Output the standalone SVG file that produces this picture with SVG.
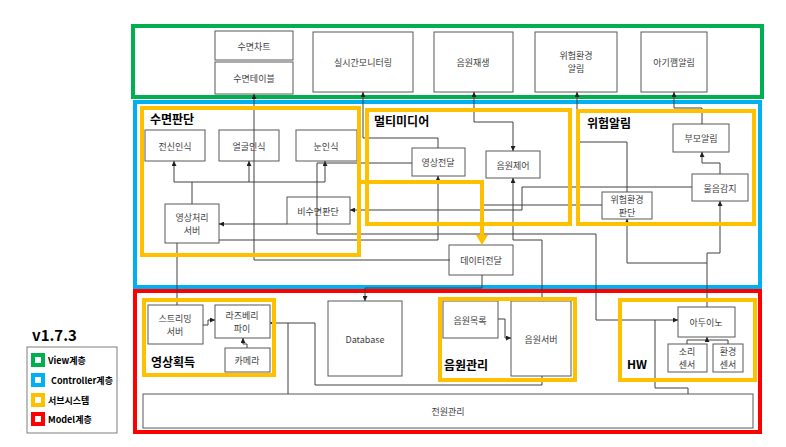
<svg xmlns="http://www.w3.org/2000/svg" width="786" height="447" viewBox="0 0 786 447">
<style>
.layer{fill:none;stroke-width:4}
.sub{fill:none;stroke:#FFC000;stroke-width:4}
.box{fill:#fff;stroke:#595959;stroke-width:1}
.t{font-family:"Noto Sans CJK KR","Noto Sans",sans-serif;font-size:9px;fill:#404040;text-anchor:middle;dominant-baseline:central}
.lbl{font-family:"Noto Sans CJK KR","Noto Sans",sans-serif;font-size:12px;font-weight:bold;fill:#000}
.lg{font-family:"Noto Sans CJK KR","Noto Sans",sans-serif;font-size:9px;font-weight:bold;fill:#000}
.c{fill:none;stroke:#404040;stroke-width:1}
.ca{fill:none;stroke:#404040;stroke-width:1;marker-end:url(#a)}
</style>
<defs>
<marker id="a" viewBox="0 0 6 6" refX="6" refY="3" markerWidth="5" markerHeight="5" orient="auto-start-reverse" markerUnits="userSpaceOnUse"><path d="M0,0 L6,3 L0,6z" fill="#202020"/></marker>
</defs>
<rect width="786" height="447" fill="#fff"/>
<g id="layer-view"><rect class="layer" x="133" y="26" width="629" height="71" stroke="#00B050"/></g>
<g id="layer-controller"><rect class="layer" x="135" y="102" width="625" height="185" stroke="#00B0F0"/></g>
<g id="layer-model"><rect class="layer" x="135" y="291" width="625" height="141" stroke="#FF0000"/></g>

<g id="n-sleepchart"><rect class="box" x="215" y="31" width="78" height="29"/><text class="t" x="254" y="46">수면차트</text></g>
<g id="n-sleeptable"><rect class="box" x="215" y="62" width="78" height="32"/><text class="t" x="254" y="78">수면테이블</text></g>
<g id="n-monitor"><rect class="box" x="313" y="32" width="100" height="60"/><text class="t" x="363" y="62">실시간모니터링</text></g>
<g id="n-play"><rect class="box" x="434" y="32" width="79" height="60"/><text class="t" x="473" y="62">음원재생</text></g>
<g id="n-dangeralert"><rect class="box" x="535" y="32" width="82" height="60"/><text class="t" x="576" y="55.5">위험환경</text><text class="t" x="576" y="68.5">알림</text></g>
<g id="n-wakealert"><rect class="box" x="641" y="32" width="66" height="60"/><text class="t" x="674" y="62">아기깸알림</text></g>

<g id="n-body"><rect class="box" x="145" y="130" width="60" height="31"/><text class="t" x="175" y="146">전신인식</text></g>
<g id="n-face"><rect class="box" x="219" y="130" width="60" height="31"/><text class="t" x="249" y="146">얼굴인식</text></g>
<g id="n-eye"><rect class="box" x="296" y="130" width="61" height="31"/><text class="t" x="326" y="146">눈인식</text></g>
<g id="n-imgserver"><rect class="box" x="165" y="204" width="54" height="39"/><text class="t" x="192" y="217">영상처리</text><text class="t" x="192" y="230">서버</text></g>
<g id="n-nonsleep"><rect class="box" x="287" y="197" width="63" height="27"/><text class="t" x="318" y="211">비수면판단</text></g>
<g id="n-videotx"><rect class="box" x="412" y="148" width="53" height="28"/><text class="t" x="438" y="162">영상전달</text></g>
<g id="n-soundctrl"><rect class="box" x="486" y="151" width="54" height="27"/><text class="t" x="513" y="165">음원제어</text></g>
<g id="n-dangerjudge"><rect class="box" x="602" y="192" width="50" height="27"/><text class="t" x="627" y="199">위험환경</text><text class="t" x="627" y="212">판단</text></g>
<g id="n-crydetect"><rect class="box" x="692" y="174" width="56" height="27"/><text class="t" x="720" y="188">울음감지</text></g>
<g id="n-parentalert"><rect class="box" x="673" y="124" width="56" height="28"/><text class="t" x="701" y="138">부모알림</text></g>
<g id="n-datatx"><rect class="box" x="449" y="245" width="64" height="30"/><text class="t" x="481" y="260">데이터전달</text></g>

<g id="n-streaming"><rect class="box" x="148" y="305" width="55" height="39"/><text class="t" x="175" y="318">스트리밍</text><text class="t" x="175" y="331">서버</text></g>
<g id="n-raspi"><rect class="box" x="215" y="305" width="55" height="33"/><text class="t" x="242" y="315">라즈베리</text><text class="t" x="242" y="328">파이</text></g>
<g id="n-camera"><rect class="box" x="225" y="348" width="45" height="24"/><text class="t" x="247" y="360">카메라</text></g>
<g id="n-database"><rect class="box" x="328" y="301" width="74" height="75"/><text class="t" x="365" y="339">Database</text></g>
<g id="n-soundlist"><rect class="box" x="443" y="301" width="55" height="37"/><text class="t" x="470" y="320">음원목록</text></g>
<g id="n-soundserver"><rect class="box" x="511" y="301" width="60" height="75"/><text class="t" x="541" y="339">음원서버</text></g>
<g id="n-arduino"><rect class="box" x="678" y="307" width="57" height="30"/><text class="t" x="706" y="322">아두이노</text></g>
<g id="n-soundsensor"><rect class="box" x="668" y="344" width="39" height="28"/><text class="t" x="687" y="351.5">소리</text><text class="t" x="687" y="364.5">센서</text></g>
<g id="n-envsensor"><rect class="box" x="713" y="344" width="30" height="28"/><text class="t" x="728" y="351.5">환경</text><text class="t" x="728" y="364.5">센서</text></g>
<g id="n-power"><rect class="box" x="143" y="394" width="610" height="34"/><text class="t" x="448" y="411">전원관리</text></g>

<g id="connectors">
<path class="ca" d="M438,148 V138 H363 V92"/>
<path class="ca" d="M474,122 V92"/>
<path class="ca" d="M474,122 H513 V151"/>
<path class="ca" d="M627,192 V142 H577 V92"/>
<path class="ca" d="M702,124 V108 H674 V92"/>
<path class="ca" d="M720,174 V163 H702 V152"/>
<path class="ca" d="M450,260 H254 V94"/>
<path class="ca" d="M192,204 V182 H174 V161"/>
<path class="ca" d="M192,182 H325 V161"/>
<path class="ca" d="M249,182 V161"/>
<path class="ca" d="M287,224 H219"/>
<path class="ca" d="M692,187 H522 V210 H350"/>
<path class="c" d="M602,205 H483"/>
<path class="ca" d="M219,240 H438 V176"/>
<path class="ca" d="M412,163 H317 V234 H596 V320 H678"/>
<path class="ca" d="M482,275 V288 H365 V301"/>
<path class="ca" d="M542,301 V240 H513 V178"/>
<path class="ca" d="M707,307 V253 H720 V201"/>
<path class="ca" d="M707,263 H627 V219"/>
<path class="c" d="M177,243 V305"/>
<path class="ca" d="M203,325 H208 V320 H215"/>
<path class="ca" d="M247,348 V344 H243 V338"/>
<path class="ca" d="M542,376 V385 H315 V323 H270"/>
<path class="c" d="M288,394 V323"/>
<path class="ca" d="M498,319 H505 V338 H511"/>
<path class="c" d="M687,344 V340 H728 V344"/>
<path class="ca" d="M707,340 V337"/>
<path class="c" d="M688,394 V388 H655 V320"/>
</g>

<g id="sub-sleep"><rect class="sub" x="142" y="108" width="217" height="147"/><text class="lbl" x="150" y="124">수면판단</text></g>
<g id="sub-multimedia"><rect class="sub" x="367" y="110" width="203" height="114"/><text class="lbl" x="374" y="126">멀티미디어</text></g>
<g id="sub-danger"><rect class="sub" x="578" y="111" width="176" height="113"/><text class="lbl" x="587" y="128">위험알림</text></g>
<g id="sub-video"><rect class="sub" x="144" y="300" width="130" height="75"/><text class="lbl" x="151" y="367">영상획득</text></g>
<g id="sub-sound"><rect class="sub" x="440" y="299" width="135" height="81"/><text class="lbl" x="444" y="370">음원관리</text></g>
<g id="sub-hw"><rect class="sub" x="620" y="300" width="135" height="80"/><text class="lbl" x="627" y="369">HW</text></g>

<g id="yellow-arrow">
<path d="M361,182 H482 V236" fill="none" stroke="#FFC000" stroke-width="4"/>
<path d="M476,235 L488,235 L482,245z" fill="#FFC000"/>
</g>

<g id="legend">
<text x="32" y="341" font-family="Noto Sans CJK KR, Noto Sans, sans-serif" font-size="15" font-weight="bold" fill="#000">v1.7.3</text>
<rect x="27" y="347" width="90" height="86" fill="#fff" stroke="#7f7f7f" stroke-width="1"/>
<rect x="31" y="353" width="14" height="14" fill="#00B050"/><rect x="35" y="357" width="6" height="6" fill="#fff"/>
<text class="lg" x="48" y="364">View계층</text>
<rect x="31" y="373" width="14" height="14" fill="#00B0F0"/><rect x="35" y="377" width="6" height="6" fill="#fff"/>
<text class="lg" x="51" y="384">Controller계층</text>
<rect x="31" y="393" width="14" height="14" fill="#FFC000"/><rect x="35" y="397" width="6" height="6" fill="#fff"/>
<text class="lg" x="48" y="404">서브시스템</text>
<rect x="31" y="412" width="14" height="14" fill="#FF0000"/><rect x="35" y="416" width="6" height="6" fill="#fff"/>
<text class="lg" x="48" y="423">Model계층</text>
</g>
</svg>
